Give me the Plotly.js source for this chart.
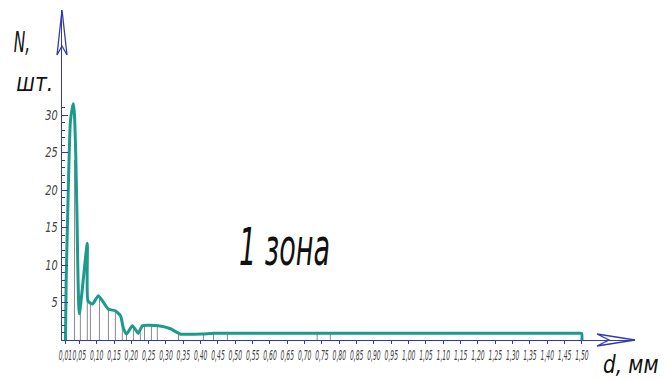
<!DOCTYPE html>
<html>
<head>
<meta charset="utf-8">
<script src="https://cdn.plot.ly/plotly-3.0.1.min.js"></script>
<style>
  html, body { margin: 0; padding: 0; background: #fff; }
  #chart { width: 667px; height: 380px; }
</style>
</head>
<body>
<div id="chart"></div>
<script>
// Particle size distribution, zone 1: diameter d (mm) vs count N (pcs)
const curveD = [0.010, 0.012, 0.016, 0.024, 0.030, 0.033, 0.036, 0.040, 0.043, 0.050,
                0.073, 0.075, 0.088, 0.105, 0.134, 0.154, 0.169, 0.177, 0.186, 0.203,
                0.220, 0.232, 0.278, 0.313, 0.341, 0.405, 0.437, 0.700, 1.000, 1.300,
                1.450, 1.490, 1.499, 1.500];
const curveN = [0.0, 8.0, 16.0, 29.0, 31.0, 31.5, 30.0, 24.0, 17.0, 3.5,
                12.9, 5.2, 4.8, 5.9, 4.1, 3.9, 3.2, 1.6, 0.8, 1.9,
                0.9, 1.9, 1.9, 1.5, 0.8, 0.8, 0.9, 0.9, 0.9, 0.9,
                0.9, 0.9, 0.9, 0.0];

// Hatching drop lines under the curve
const stemD = [0.036, 0.053, 0.073, 0.082, 0.108, 0.134, 0.154, 0.174, 0.186, 0.206,
               0.226, 0.238, 0.258, 0.275, 0.336, 0.408, 0.437, 0.477, 0.736, 0.774];
const stemN = [24.0, 4.6, 12.0, 4.9, 5.8, 4.1, 3.9, 2.5, 0.8, 1.8,
               1.0, 1.9, 1.9, 1.9, 0.9, 0.8, 0.9, 0.9, 0.9, 0.9];

// Axis tick positions and labels
const dTicks = [0.01, 0.05, 0.10, 0.15, 0.20, 0.25, 0.30, 0.35, 0.40, 0.45, 0.50,
                0.55, 0.60, 0.65, 0.70, 0.75, 0.80, 0.85, 0.90, 0.95, 1.00, 1.05,
                1.10, 1.15, 1.20, 1.25, 1.30, 1.35, 1.40, 1.45, 1.50];
const dLabels = dTicks.map(v => v.toFixed(2).replace('.', ','));
const nTicks = [5, 10, 15, 20, 25, 30];
const nMinor = Array.from({length: 31}, (_, i) => i + 1);

const AXIS = '#3439b0';
const TEAL = '#1c9a8c';
const FONT = "'DejaVu Sans', sans-serif";

// Build drop-line segments separated by gaps
const stemX = [], stemY = [];
stemD.forEach((d, i) => { stemX.push(d, d, null); stemY.push(0, stemN[i], null); });

const W = 667, H = 380;
const M = {l: 62, r: 32, t: 10, b: 40};
const PW = W - M.l - M.r, PH = H - M.t - M.b;
const px = x => (x - M.l) / PW;
const py = y => (H - M.b - y) / PH;

const traces = [
  {
    x: stemX, y: stemY, type: 'scatter', mode: 'lines',
    line: {color: '#8a8a8a', width: 1}, hoverinfo: 'skip', showlegend: false
  },
  {
    x: curveD, y: curveN, type: 'scatter', mode: 'lines',
    line: {color: TEAL, width: 3, shape: 'spline', smoothing: 0.5},
    showlegend: false
  }
];

// Open CAD-style arrowheads at the axis ends
const aw = 5 / PW, al = 45 / PH, an = 36 / PH;
const bh = 6 / PH, bl = 38 / PW, bn = 26 / PW;
const shapes = [
  {type: 'path', xref: 'paper', yref: 'paper',
   path: `M ${-aw},${1 - al} L 0,1 L ${aw},${1 - al} L 0,${1 - an} Z`,
   line: {color: AXIS, width: 1.3}},
  {type: 'path', xref: 'paper', yref: 'paper',
   path: `M ${1 - bl},${bh} L 1,0 L ${1 - bl},${-bh} L ${1 - bn},0 Z`,
   line: {color: AXIS, width: 1.3}}
];

const txt = (text, x, y, size) => ({
  text, xref: 'paper', yref: 'paper', x: px(x), y: py(y),
  xanchor: 'center', yanchor: 'middle', showarrow: false,
  font: {family: FONT, size, color: '#111', style: 'italic'}
});

const layout = {
  width: W, height: H, margin: M,
  paper_bgcolor: '#fff', plot_bgcolor: '#fff',
  xaxis: {
    range: [0, 1.653], showgrid: false, zeroline: false,
    showline: true, linecolor: AXIS, linewidth: 1.2,
    tickmode: 'array', tickvals: dTicks, ticktext: dLabels, tickangle: 0,
    ticks: 'outside', ticklen: 3, tickcolor: AXIS, tickwidth: 1,
    tickfont: {family: FONT, size: 13.5, color: '#444', style: 'italic'}
  },
  yaxis: {
    range: [0, 44], showgrid: false, zeroline: false,
    showline: true, linecolor: AXIS, linewidth: 1.5,
    tickmode: 'array', tickvals: nTicks,
    ticks: 'inside', ticklen: 6, tickcolor: AXIS, tickwidth: 1,
    minor: {tickmode: 'array', tickvals: nMinor, ticks: 'inside', ticklen: 3, tickcolor: AXIS},
    tickfont: {family: FONT, size: 14, color: '#444', style: 'italic'}
  },
  shapes,
  annotations: [
    txt('N,', 22, 43, 28),
    txt('шт.', 35, 83, 24),
    txt('d, мм', 630, 364, 25),
    txt('1 зона', 284, 247, 52)
  ]
};

// Narrow drafting-style lettering: compress each text horizontally
// about its own anchor point, keeping any transform Plotly already set.
function squeeze(el, k) {
  const ax = parseFloat(el.getAttribute('x')) || 0;
  const prev = el.getAttribute('transform') || '';
  el.setAttribute('transform',
    `${prev} translate(${ax},0) scale(${k},1) translate(${-ax},0)`.trim());
}

Plotly.newPlot('chart', traces, layout, {displayModeBar: false, staticPlot: true})
  .then(gd => {
    gd.querySelectorAll('.xtick text').forEach(t => squeeze(t, 0.45));
    gd.querySelectorAll('.ytick text').forEach(t => squeeze(t, 0.7));
    const factors = [0.55, 0.85, 0.8, 0.52];
    gd.querySelectorAll('.annotation').forEach((g, i) => {
      const t = g.querySelector('text');
      if (t) squeeze(t, factors[i]);
    });
  });
</script>
</body>
</html>
